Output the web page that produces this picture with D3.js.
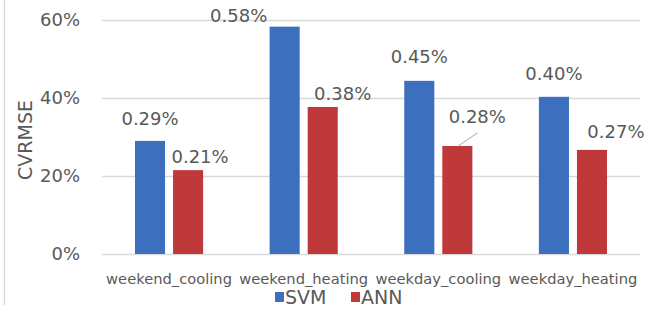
<!DOCTYPE html>
<html>
<head>
<meta charset="utf-8">
<script src="https://cdn.jsdelivr.net/npm/d3@7"></script>
<style>
  body { margin: 0; background: #fff; }
  text { font-family: "DejaVu Sans", sans-serif; fill: #595959; }
</style>
</head>
<body>
<svg id="svg"></svg>
<script>
var categories = ["weekend_cooling", "weekend_heating", "weekday_cooling", "weekday_heating"];
var series = ["SVM", "ANN"];
var svmValues = [0.29, 0.583, 0.444, 0.403];
var annValues = [0.215, 0.377, 0.277, 0.267];
var svmLabels = ["0.29%", "0.58%", "0.45%", "0.40%"];
var annLabels = ["0.21%", "0.38%", "0.28%", "0.27%"];
var yTicks = [0, 0.2, 0.4, 0.6];
var colors = ["#3c6fbe", "#c0393a"];

// label nudges (dx, dy) in pixels, relative to the top-centre of each bar
var svmNudge = [[0, -16], [-46, -5], [0, -18], [0, -17]];
var annNudge = [[12, -7], [20, -7], [20, -23], [24, -12]];

var width = 660, height = 313;
var svg = d3.select("#svg").attr("width", width).attr("height", height);

var x0 = d3.scaleBand().domain(categories).range([102, 640]).paddingInner(0.494).paddingOuter(0.245);
var x1 = d3.scaleBand().domain(series).range([0, x0.bandwidth()]).paddingInner(0.21).paddingOuter(0);
var y = d3.scaleLinear().domain([0, 0.6]).range([254, 20]);

// left frame line
svg.append("line").attr("x1", 4.5).attr("x2", 4.5).attr("y1", 0).attr("y2", 305)
  .attr("stroke", "#d9d9d9").attr("stroke-width", 1.5);

// gridlines
svg.append("g").selectAll("line").data(yTicks).enter().append("line")
  .attr("x1", 102).attr("x2", 640)
  .attr("y1", function(d) { return Math.round(y(d)) + 0.5; })
  .attr("y2", function(d) { return Math.round(y(d)) + 0.5; })
  .attr("stroke", "#d9d9d9").attr("stroke-width", 1.3);

var yAxis = svg.append("g").attr("transform", "translate(80,0)")
  .call(d3.axisLeft(y).tickValues(yTicks).tickFormat(d3.format(".0%")).tickSize(0).tickPadding(0));
yAxis.select(".domain").remove();
yAxis.selectAll("text").style("font-size", "18px").attr("fill", "#595959")
  .style("font-family", "'DejaVu Sans', sans-serif");

svg.append("text").attr("transform", "translate(32,140) rotate(-90)")
  .attr("text-anchor", "middle").style("font-size", "19px").text("CVRMSE");

var rows = categories.map(function(c, i) {
  return { cat: c, vals: [
    { s: "SVM", v: svmValues[i], label: svmLabels[i], nudge: svmNudge[i] },
    { s: "ANN", v: annValues[i], label: annLabels[i], nudge: annNudge[i] }
  ] };
});

var groups = svg.append("g").selectAll("g").data(rows).enter().append("g")
  .attr("transform", function(d) { return "translate(" + x0(d.cat) + ",0)"; });

groups.selectAll("rect").data(function(d) { return d.vals; }).enter().append("rect")
  .attr("x", function(d) { return x1(d.s); })
  .attr("width", x1.bandwidth())
  .attr("y", function(d) { return y(d.v); })
  .attr("height", function(d) { return y(0) - y(d.v); })
  .attr("fill", function(d, i) { return colors[i]; });

groups.selectAll("text.lbl").data(function(d) { return d.vals; }).enter().append("text")
  .attr("class", "lbl")
  .attr("x", function(d) { return x1(d.s) + x1.bandwidth() / 2 + d.nudge[0]; })
  .attr("y", function(d) { return y(d.v) + d.nudge[1]; })
  .attr("text-anchor", "middle")
  .style("font-size", "18px").attr("fill", "#404040")
  .text(function(d) { return d.label; });

// leader line for weekday_cooling ANN label
var lc = categories[2];
var lcx = x0(lc) + x1("ANN") + x1.bandwidth() / 2;
svg.append("line")
  .attr("x1", lcx + 1).attr("y1", y(annValues[2]))
  .attr("x2", lcx + 20).attr("y2", y(annValues[2]) - 13)
  .attr("stroke", "#a6a6a6").attr("stroke-width", 1);

// category labels
svg.append("g").selectAll("text").data(categories).enter().append("text")
  .attr("x", function(d) { return x0(d) + x0.bandwidth() / 2; })
  .attr("y", 284)
  .attr("text-anchor", "middle")
  .style("font-size", "14.7px")
  .text(function(d) { return d; });

// legend
var legend = svg.append("g").selectAll("g").data(series).enter().append("g")
  .attr("transform", function(d, i) { return "translate(" + (275 + i * 76) + ",0)"; });
legend.append("rect").attr("x", 0).attr("y", 292).attr("width", 9).attr("height", 10)
  .attr("fill", function(d, i) { return colors[i]; });
legend.append("text").attr("x", 10).attr("y", 304)
  .style("font-size", "19px").text(function(d) { return d; });
</script>
</body>
</html>
